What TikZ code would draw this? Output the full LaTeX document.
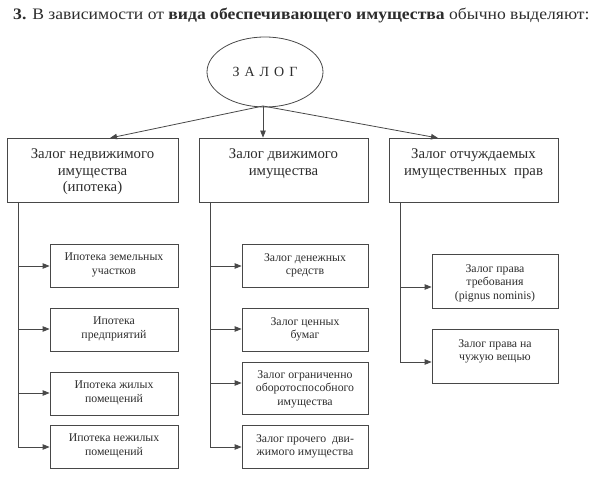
\documentclass[tikz,border=0pt]{standalone}
\usepackage{fontspec}
\usepackage{graphicx}
\setmainfont{Liberation Serif}
\usetikzlibrary{arrows.meta,shapes.geometric}
\definecolor{lc}{RGB}{72,72,72}
\definecolor{tc}{RGB}{45,45,45}
\begin{document}
\begin{tikzpicture}[x=1pt,y=-1pt,
  line/.style={draw=lc, line width=0.8pt},
  arr/.style={line, -{Triangle[length=7pt,width=5.5pt]}},
  boxs/.style={line, rectangle, inner sep=0pt},
  toplbl/.style={anchor=north, inner sep=0pt, align=center, text=tc,
    font=\fontsize{14.8}{16.7}\selectfont},
  sublbl/.style={anchor=north, inner sep=0pt, align=center, text=tc,
    font=\fontsize{11.8}{13.6}\selectfont}]
\useasboundingbox (0,0) rectangle (591,478);

% title
\node[anchor=base west, inner sep=0pt, text=tc, font=\fontsize{16}{18}\selectfont] (title) at (13,20)
  {\scalebox{1.1}[1]{\textbf{3.} В зависимости от \textbf{вида обеспечивающего имущества} обычно выделяют:}};

% ellipse
\node[line, ellipse, minimum width=116pt, minimum height=70pt, inner sep=0pt,
  text=tc, font=\fontsize{14}{16}\selectfont] (z) at (265,72)
  {З\hspace{5pt}А\hspace{5pt}Л\hspace{5pt}О\hspace{5pt}Г};

% top boxes
\node[boxs, minimum width=171pt, minimum height=64pt] (b1) at (92.5,170) {};
\node[boxs, minimum width=169pt, minimum height=64pt] (b2) at (283.5,170) {};
\node[boxs, minimum width=169pt, minimum height=64pt] (b3) at (473.5,170) {};
\node[toplbl] (l1) at (92.5,148.3) {Залог недвижимого\\имущества\\(ипотека)};
\node[toplbl] (l2) at (283.5,148.3) {Залог движимого\\имущества};
\node[toplbl] (l3) at (473.5,148.3) {Залог отчуждаемых\\имущественных\ \ прав};

% arrows from ellipse
\coordinate (ap) at (263,106);
\coordinate (e1) at (110,138);
\coordinate (e3) at (438,138);
\draw[arr] (ap) -- (e1);
\draw[arr] (ap) -- (ap |- b2.north);
\draw[arr] (ap) -- (e3);

% column 1
\node[boxs, minimum width=128pt, minimum height=43pt] (s11) at (114,265.5) {};
\node[boxs, minimum width=128pt, minimum height=43pt] (s12) at (114,329.5) {};
\node[boxs, minimum width=128pt, minimum height=43pt] (s13) at (114,393.5) {};
\node[boxs, minimum width=128pt, minimum height=43pt] (s14) at (114,446.5) {};
\node[sublbl] (t11) at (114,253) {Ипотека земельных\\участков};
\node[sublbl] (t12) at (114,317) {Ипотека\\предприятий};
\node[sublbl] (t13) at (114,381) {Ипотека жилых\\помещений};
\node[sublbl] (t14) at (114,434) {Ипотека нежилых\\помещений};

% column 2
\node[boxs, minimum width=126pt, minimum height=43pt] (s21) at (305,265.5) {};
\node[boxs, minimum width=126pt, minimum height=43pt] (s22) at (305,329.5) {};
\node[boxs, minimum width=126pt, minimum height=52pt] (s23) at (305,388) {};
\node[boxs, minimum width=126pt, minimum height=43pt] (s24) at (305,446.5) {};
\node[sublbl] (t21) at (305,253) {Залог денежных\\средств};
\node[sublbl] (t22) at (305,317) {Залог ценных\\бумаг};
\node[sublbl] (t23) at (305,370) {Залог ограниченно\\оборотоспособного\\имущества};
\node[sublbl] (t24) at (305,434) {Залог прочего\ \ дви-\\жимого имущества};

% column 3
\node[boxs, minimum width=126pt, minimum height=54pt] (s31) at (495,281) {};
\node[boxs, minimum width=126pt, minimum height=54pt] (s32) at (495,356) {};
\node[sublbl] (t31) at (495,264) {Залог права\\требования\\(pignus nominis)};
\node[sublbl] (t32) at (495,339) {Залог права на\\чужую вещью};

% trunks
\coordinate (k1) at (18,202);
\coordinate (k2) at (210,202);
\coordinate (k3) at (400,202);
\coordinate (a11) at (18,266);
\coordinate (a12) at (18,329);
\coordinate (a13) at (18,393);
\coordinate (a14) at (18,447);
\coordinate (a21) at (210,266);
\coordinate (a22) at (210,329);
\coordinate (a23) at (210,383);
\coordinate (a24) at (210,447);
\coordinate (a31) at (400,287);
\coordinate (a32) at (400,362);

\draw[line] (k1) -- (a14);
\draw[line] (k2) -- (a24);
\draw[line] (k3) -- (a32);
\draw[arr] (a11) -- (a11 -| s11.west);
\draw[arr] (a12) -- (a12 -| s12.west);
\draw[arr] (a13) -- (a13 -| s13.west);
\draw[arr] (a14) -- (a14 -| s14.west);
\draw[arr] (a21) -- (a21 -| s21.west);
\draw[arr] (a22) -- (a22 -| s22.west);
\draw[arr] (a23) -- (a23 -| s23.west);
\draw[arr] (a24) -- (a24 -| s24.west);
\draw[arr] (a31) -- (a31 -| s31.west);
\draw[arr] (a32) -- (a32 -| s32.west);
\end{tikzpicture}
\end{document}
